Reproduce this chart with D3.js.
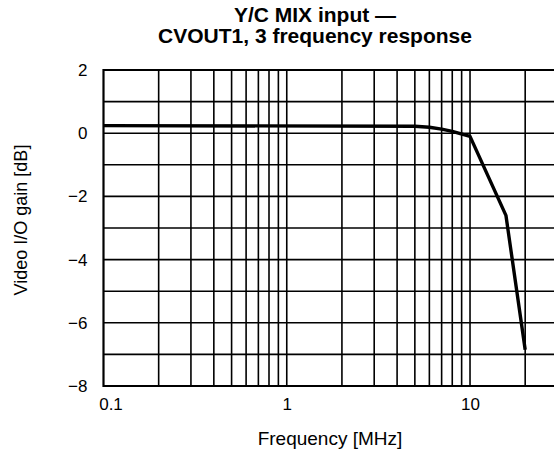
<!DOCTYPE html>
<html>
<head>
<meta charset="utf-8">
<script src="https://cdn.jsdelivr.net/npm/d3@7"></script>
<style>
  html, body { margin: 0; padding: 0; background: #fff; }
  svg { display: block; }
  text { font-family: "Liberation Sans", Arial, Helvetica, sans-serif; fill: #000; }
</style>
</head>
<body>
<svg id="chart" width="554" height="458"></svg>
<script>
// Frequency response: frequency in MHz, gain in dB
const freqMHz = [0.1, 5, 6, 7, 8, 10, 15.7, 20];
const gainDb  = [0.24, 0.22, 0.19, 0.13, 0.06, -0.1, -2.6, -6.85];

const xTickValues = [0.1, 1, 10];
const xTickLabels = ["0.1", "1", "10"];
const xGridValues = [0.2, 0.3, 0.4, 0.5, 0.6, 0.7, 0.8, 0.9, 1,
                     2, 3, 4, 5, 6, 7, 8, 9, 10, 20];
const yTickValues = [2, 0, -2, -4, -6, -8];
const yGridValues = [2, 1, 0, -1, -2, -3, -4, -5, -6, -7, -8];

const titleLines = ["Y/C MIX input \u2014", "CVOUT1, 3 frequency response"];
const xLabel = "Frequency [MHz]";
const yLabel = "Video I/O gain [dB]";

const svg = d3.select("#chart");
const plotLeft = 103.5, plotRight = 560, plotTop = 70, plotBottom = 386;

const x = d3.scaleLog()
  .domain([0.1, 10 ** (1 + (plotRight - 470) / 183.3)])
  .range([plotLeft, plotRight]);
const y = d3.scaleLinear().domain([-8, 2]).range([plotBottom, plotTop]);

// Grid
const grid = svg.append("g").attr("stroke", "#000").attr("stroke-width", 1.6);
grid.selectAll("line.v").data(xGridValues).join("line").attr("class", "v")
  .attr("x1", d => x(d)).attr("x2", d => x(d))
  .attr("y1", plotTop).attr("y2", plotBottom);
grid.selectAll("line.h").data(yGridValues).join("line").attr("class", "h")
  .attr("x1", plotLeft).attr("x2", plotRight)
  .attr("y1", d => y(d)).attr("y2", d => y(d));

// Frame (left, top, bottom)
const frame = svg.append("g").attr("stroke", "#000").attr("stroke-width", 2.2);
frame.append("line").attr("x1", plotLeft).attr("x2", plotLeft).attr("y1", plotTop - 1).attr("y2", plotBottom + 1);
frame.append("line").attr("x1", plotLeft).attr("x2", plotRight).attr("y1", plotTop).attr("y2", plotTop);
frame.append("line").attr("x1", plotLeft).attr("x2", plotRight).attr("y1", plotBottom).attr("y2", plotBottom);

// Response curve
const line = d3.line().x((d, i) => x(freqMHz[i])).y(d => y(d));
svg.append("path")
  .datum(gainDb)
  .attr("d", line)
  .attr("fill", "none")
  .attr("stroke", "#000")
  .attr("stroke-width", 3.4)
  .attr("stroke-linejoin", "round");

// Axes
const xAxis = d3.axisBottom(x).tickValues(xTickValues)
  .tickFormat((d, i) => xTickLabels[i]).tickSize(0).tickPadding(12);
const gx = svg.append("g").attr("transform", `translate(0,${plotBottom})`).call(xAxis);
gx.select(".domain").remove();
gx.selectAll("text")
  .attr("font-size", 17)
  .attr("font-family", "Liberation Sans, Arial, sans-serif")
  .attr("dx", d => d === 0.1 ? 7 : 0);

const yAxis = d3.axisLeft(y).tickValues(yTickValues)
  .tickFormat(d => d < 0 ? "\u2212" + Math.abs(d) : String(d)).tickSize(0).tickPadding(16);
const gy = svg.append("g").attr("transform", `translate(${plotLeft},0)`).call(yAxis);
gy.select(".domain").remove();
gy.selectAll("text").attr("font-size", 17).attr("font-family", "Liberation Sans, Arial, sans-serif");

// Title
svg.append("text")
  .attr("x", 315).attr("y", 22)
  .attr("text-anchor", "middle")
  .attr("font-size", 21).attr("font-weight", "bold")
  .selectAll("tspan").data(titleLines).join("tspan")
  .attr("x", 315).attr("dy", (d, i) => i === 0 ? 0 : 21)
  .text(d => d);

// Axis labels
svg.append("text")
  .attr("x", 330).attr("y", 445)
  .attr("text-anchor", "middle")
  .attr("font-size", 19)
  .text(xLabel);

svg.append("text")
  .attr("transform", "translate(27,220) rotate(-90)")
  .attr("text-anchor", "middle")
  .attr("font-size", 18)
  .text(yLabel);
</script>
</body>
</html>
